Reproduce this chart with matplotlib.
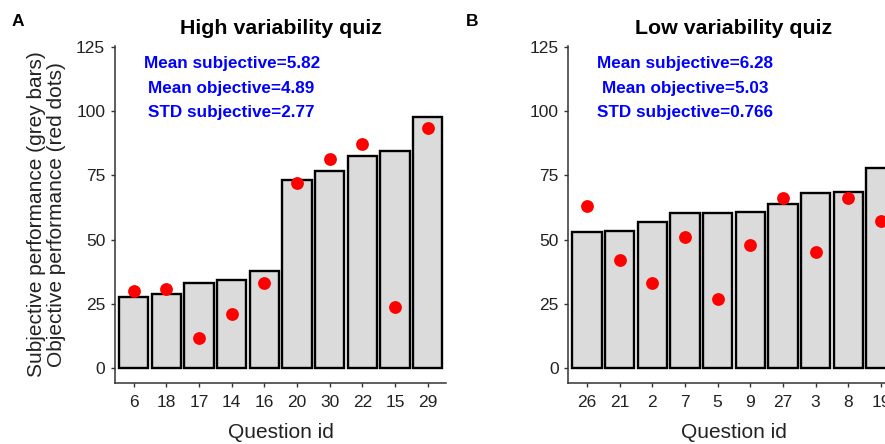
"""两个测验的主观/客观表现对比图:灰柱=主观,红点=客观。"""

import matplotlib
matplotlib.use("Agg")
import matplotlib.pyplot as plt

plt.rcParams["font.family"] = ["Liberation Sans", "DejaVu Sans"]

# --- 数据---
HIGH_IDS = ["6", "18", "17", "14", "16", "20", "30", "22", "15", "29"]
HIGH_SUBJ = [27.7, 28.8, 33.3, 34.2, 37.6, 73.4, 76.8, 82.5, 84.4, 97.8]
HIGH_OBJ = [30.1, 30.6, 11.9, 21.0, 33.2, 72.2, 81.2, 87.4, 23.9, 93.4]
HIGH_STATS = ["Mean subjective=5.82", "Mean objective=4.89", "STD subjective=2.77"]

LOW_IDS = ["26", "21", "2", "7", "5", "9", "27", "3", "8", "19"]
LOW_SUBJ = [52.9, 53.2, 56.7, 60.2, 60.2, 60.6, 63.8, 68.2, 68.4, 77.7]
LOW_OBJ = [63.2, 42.0, 33.2, 51.1, 27.0, 48.1, 66.1, 45.1, 66.1, 57.3]
LOW_STATS = ["Mean subjective=6.28", "Mean objective=5.03", "STD subjective=0.766"]

STATS_Y = [118.5, 109.0, 99.3]
YTICKS = [0, 25, 50, 75, 100, 125]

AX_COLOR = "#333333"
TXT_COLOR = "#222222"


def draw_panel(ax, ids, subj, obj, title, stats, ylabel=None):
    pos = range(len(ids))
    ax.bar(pos, subj, width=0.9, color="#DBDBDB", edgecolor="black",
           linewidth=1.7, zorder=2)
    ax.scatter(pos, obj, s=85, color="#FF0000", zorder=3, linewidths=0)
    for y, s in zip(STATS_Y, stats):
        ax.text(3, y, s, color="#0000FF", fontsize=12.3, fontweight="bold",
                ha="center", va="center")
    ax.set_xlim(-0.57, len(ids) - 0.44)
    ax.set_ylim(-5.7, 125.3)
    ax.set_xticks(list(pos))
    ax.set_xticklabels(ids)
    ax.set_yticks(YTICKS)
    ax.tick_params(length=3, width=1, color=AX_COLOR, labelsize=12.5,
                   labelcolor=TXT_COLOR)
    ax.tick_params(axis="x", pad=6)
    ax.tick_params(axis="y", pad=4)
    for side in ("top", "right"):
        ax.spines[side].set_visible(False)
    for side in ("left", "bottom"):
        ax.spines[side].set_color(AX_COLOR)
        ax.spines[side].set_linewidth(1.1)
    ax.set_title(title, fontsize=15.4, fontweight="bold", pad=9)
    ax.set_xlabel("Question id", fontsize=15, color=TXT_COLOR, labelpad=9)
    if ylabel:
        ax.set_ylabel(ylabel, fontsize=15, color=TXT_COLOR, labelpad=7,
                      linespacing=1.1)


def main() -> None:
    fig = plt.figure(figsize=(8.85, 4.44), dpi=100)
    ax_a = fig.add_axes([0.1299, 0.138, 0.374, 0.758])
    ax_b = fig.add_axes([0.6421, 0.138, 0.374, 0.758])

    draw_panel(ax_a, HIGH_IDS, HIGH_SUBJ, HIGH_OBJ, "High variability quiz",
               HIGH_STATS,
               ylabel="Subjective performance (grey bars)\nObjective performance (red dots)")
    draw_panel(ax_b, LOW_IDS, LOW_SUBJ, LOW_OBJ, "Low variability quiz", LOW_STATS)

    fig.text(12 / 885, 1 - 22 / 444, "A", fontsize=12.5, fontweight="bold",
             va="center")
    fig.text(466 / 885, 1 - 22 / 444, "B", fontsize=12.5, fontweight="bold",
             va="center")

    fig.savefig("out.png", dpi=100)
    plt.close(fig)


if __name__ == "__main__":
    main()
